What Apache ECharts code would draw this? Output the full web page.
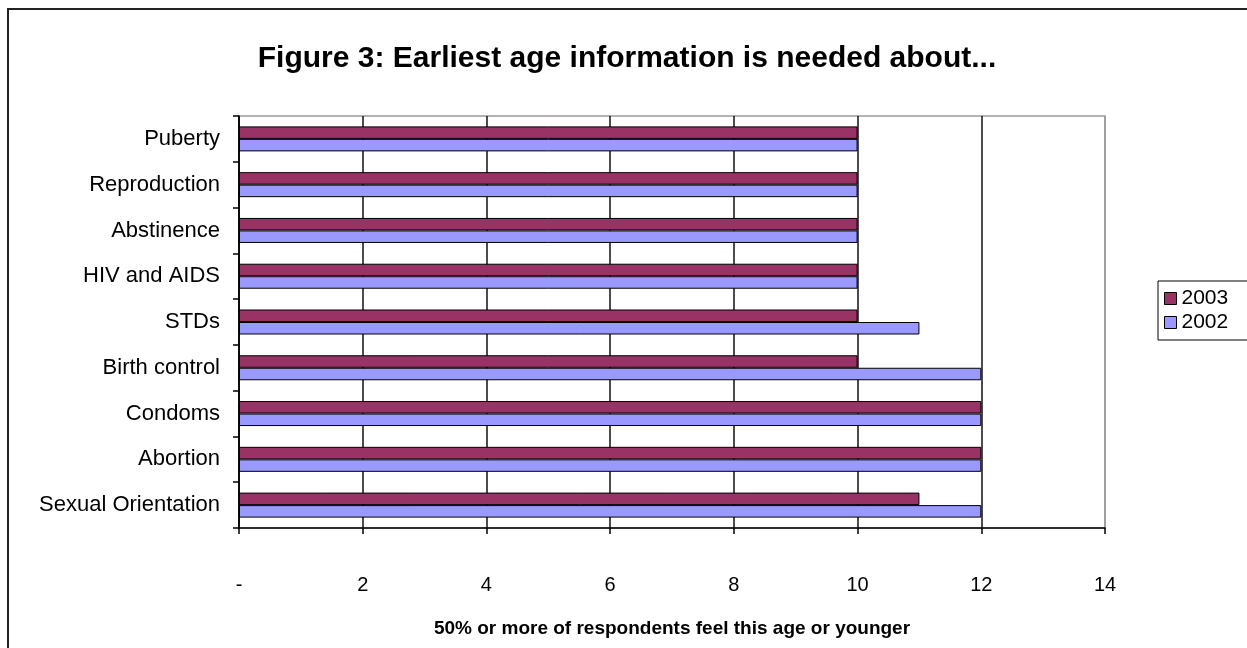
<!DOCTYPE html>
<html>
<head>
<meta charset="utf-8">
<script src="https://cdn.jsdelivr.net/npm/echarts@6/dist/echarts.min.js"></script>
<style>
html,body{margin:0;padding:0;background:#fff;}
#c{width:1247px;height:648px;}
</style>
</head>
<body>
<div id="c"></div>
<script>
const categories = ["Puberty","Reproduction","Abstinence","HIV and AIDS","STDs","Birth control","Condoms","Abortion","Sexual Orientation"];
const values2003 = [10,10,10,10,10,10,12,12,11];
const values2002 = [10,10,10,10,11,12,12,12,12];
const seriesNames = ["2003","2002"];
const titleText = "Figure 3: Earliest age information is needed about...";
const xAxisTitle = "50% or more of respondents feel this age or younger";

const FONT = "'Liberation Sans', Arial, sans-serif";
const chart = echarts.init(document.getElementById('c'), null, {renderer:'canvas'});
chart.setOption({
  backgroundColor:'#fff',
  animation:false,
  title:{
    text:titleText,
    left:622, textAlign:'center', top:39,
    textStyle:{fontFamily:FONT,fontWeight:'bold',fontSize:30,color:'#000'}
  },
  graphic:[{
    type:'rect', shape:{x:8,y:9,width:1400,height:800},
    style:{fill:'none',stroke:'#222',lineWidth:2}, silent:true
  }],
  legend:{
    data:seriesNames, orient:'vertical', left:1158, top:281,
    borderColor:'#000', borderWidth:1, padding:[7,20,7,6],
    itemWidth:12, itemHeight:12, itemGap:3, icon:'rect',
    textStyle:{fontFamily:FONT,fontSize:21,color:'#000'},
    itemStyle:{borderColor:'#000',borderWidth:1}
  },
  grid:{left:239,right:142,top:116,bottom:120,show:true,borderColor:'#999',borderWidth:1.5,containLabel:false},
  xAxis:{
    type:'value', min:0, max:14, interval:2,
    axisLine:{show:true,lineStyle:{color:'#000',width:1.5}},
    axisTick:{show:true,length:6,lineStyle:{color:'#000',width:1.5}},
    splitLine:{show:true,lineStyle:{color:['#000','#111','#111','#111','#111','#111','#111','#999'],width:1.5}},
    axisLabel:{margin:47,fontFamily:FONT,fontSize:20,color:'#000',formatter:v=>v===0?'-':String(v)},
    name:xAxisTitle, nameLocation:'middle', nameGap:91,
    nameTextStyle:{fontFamily:FONT,fontWeight:'bold',fontSize:19,color:'#000'}
  },
  yAxis:{
    type:'category', data:categories, inverse:true,
    axisLine:{show:true,lineStyle:{color:'#000',width:1.5}},
    axisTick:{show:true,length:6,lineStyle:{color:'#000',width:1.5}},
    axisLabel:{margin:19,fontFamily:FONT,fontSize:22,color:'#000'},
    splitLine:{show:false}
  },
  series:[
    {name:seriesNames[0],type:'bar',data:values2003,barWidth:12.5,barGap:'0%',
     itemStyle:{color:'#993366',borderColor:'#000',borderWidth:1}},
    {name:seriesNames[1],type:'bar',data:values2002,barWidth:12.5,barGap:'0%',
     itemStyle:{color:'#9999FF',borderColor:'#000',borderWidth:1}}
  ]
});
</script>
</body>
</html>
